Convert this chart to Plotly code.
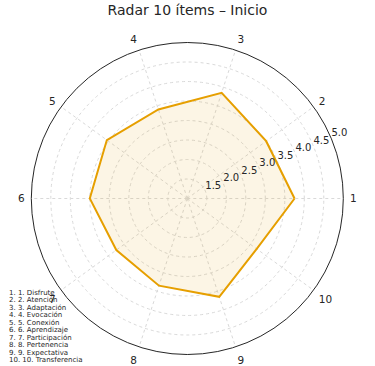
import plotly.graph_objects as go

items = ["1", "2", "3", "4", "5", "6", "7", "8", "9", "10"]
item_names = ["1. Disfrute", "2. Atención", "3. Adaptación", "4. Evocación", "5. Conexión",
              "6. Aprendizaje", "7. Participación", "8. Pertenencia", "9. Expectativa",
              "10. Transferencia"]
values = [3.75, 3.5, 3.85, 3.4, 3.55, 3.5, 3.25, 3.35, 3.65, 3.2]
angles = [i * 36 for i in range(10)]
radial_ticks = [1.5, 2.0, 2.5, 3.0, 3.5, 4.0, 4.5, 5.0]
radial_label_angle = 22.5

font = "DejaVu Sans, sans-serif"
txt = "#262626"

fig = go.Figure()
fig.add_trace(go.Scatterpolar(
    r=values + values[:1],
    theta=angles + angles[:1],
    mode="lines",
    line=dict(color="#E69F00", width=2),
    fill="toself",
    fillcolor="rgba(230,159,0,0.1)",
    hoverinfo="skip",
))
fig.add_trace(go.Scatterpolar(
    r=radial_ticks,
    theta=[radial_label_angle] * len(radial_ticks),
    mode="text",
    text=[f"{v:.1f}" for v in radial_ticks],
    textposition="top right",
    textfont=dict(family=font, size=10, color=txt),
    hoverinfo="skip",
    cliponaxis=False,
))

annotations = []
for i, name in enumerate(item_names):
    annotations.append(dict(
        x=7 / 375, y=1 - (293 + i * 7.44) / 366, xref="paper", yref="paper",
        xanchor="left", yanchor="middle", showarrow=False,
        text=f"{i + 1}. {name}", font=dict(family=font, size=7, color=txt),
    ))

grid_col = "#d9d9d9"
fig.update_layout(
    width=375, height=366,
    margin=dict(l=0, r=0, t=0, b=0),
    paper_bgcolor="white",
    showlegend=False,
    title=dict(text="Radar 10 ítems – Inicio", x=0.5, xanchor="center",
               y=1 - 10 / 366, yanchor="middle",
               font=dict(family=font, size=14, color=txt)),
    annotations=annotations,
    polar=dict(
        domain=dict(x=[31.3 / 375, 343.3 / 375], y=[11.5 / 366, 323.5 / 366]),
        bgcolor="white",
        angularaxis=dict(
            rotation=0, direction="counterclockwise",
            tickmode="array", tickvals=angles, ticktext=items,
            showline=True, linecolor="#262626", linewidth=1,
            showgrid=True, gridcolor=grid_col, gridwidth=0.8, griddash="3px,3px",
            ticks="outside", ticklen=4, tickcolor="rgba(0,0,0,0)",
            tickfont=dict(family=font, size=10.5, color=txt),
        ),
        radialaxis=dict(
            range=[1, 5], angle=radial_label_angle,
            tickmode="array", tickvals=radial_ticks,
            showticklabels=False,
            showline=False, ticks="",
            showgrid=True, gridcolor=grid_col, gridwidth=0.8, griddash="3px,3px",
        ),
    ),
)

fig.write_html("out.html")
